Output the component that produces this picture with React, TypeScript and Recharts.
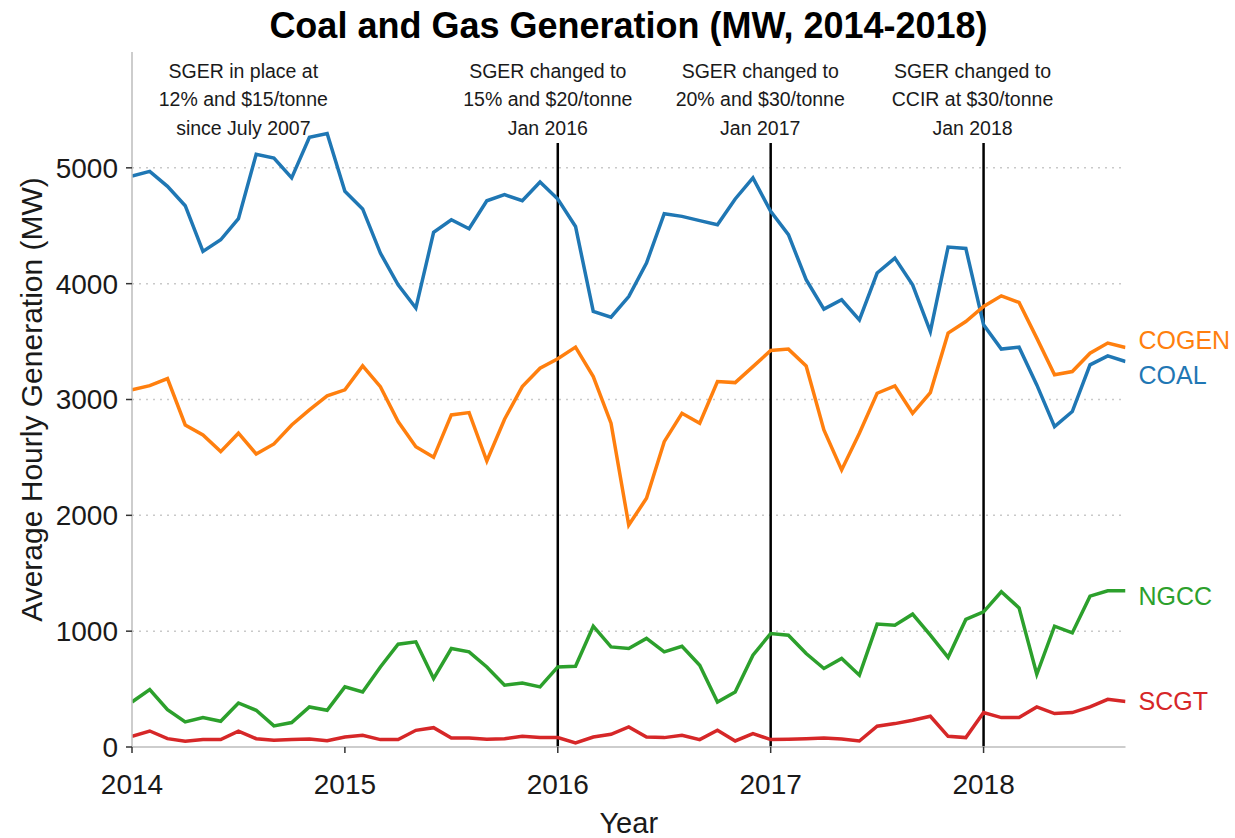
import React from "react";
import {
  LineChart,
  Line,
  XAxis,
  YAxis,
  CartesianGrid,
  ReferenceLine,
  ReferenceDot,
} from "recharts";

// monthly averages, Jan 2014 .. Sep 2018
const MONTHS = [
  "2014-01", "2014-02", "2014-03", "2014-04", "2014-05", "2014-06", "2014-07", "2014-08", "2014-09", "2014-10", "2014-11", "2014-12",
  "2015-01", "2015-02", "2015-03", "2015-04", "2015-05", "2015-06", "2015-07", "2015-08", "2015-09", "2015-10", "2015-11", "2015-12",
  "2016-01", "2016-02", "2016-03", "2016-04", "2016-05", "2016-06", "2016-07", "2016-08", "2016-09", "2016-10", "2016-11", "2016-12",
  "2017-01", "2017-02", "2017-03", "2017-04", "2017-05", "2017-06", "2017-07", "2017-08", "2017-09", "2017-10", "2017-11", "2017-12",
  "2018-01", "2018-02", "2018-03", "2018-04", "2018-05", "2018-06", "2018-07", "2018-08", "2018-09",
];

const COAL = [
  4930, 4970, 4840, 4673, 4278, 4379, 4561, 5117, 5085, 4913, 5264, 5296,
  4797, 4645, 4264, 3990, 3789, 4443, 4552, 4474, 4716, 4768, 4716, 4878,
  4730, 4494, 3760, 3711, 3889, 4178, 4604, 4581, 4544, 4509, 4731, 4913,
  4624, 4423, 4034, 3780, 3861, 3688, 4092, 4221, 3990, 3587, 4316, 4304,
  3645, 3435, 3452, 3126, 2766, 2896, 3299, 3377, 3328,
];

const COGEN = [
  3083, 3120, 3181, 2780, 2694, 2550, 2709, 2530, 2616, 2780, 2910, 3031,
  3083, 3290, 3111, 2809, 2593, 2501, 2867, 2887, 2469, 2830, 3111, 3270,
  3352, 3452, 3198, 2795, 1916, 2147, 2636, 2881, 2795, 3155, 3146, 3284,
  3423, 3435, 3290, 2737, 2392, 2709, 3054, 3118, 2881, 3060, 3573, 3673,
  3803, 3895, 3838, 3530, 3213, 3241, 3400, 3487, 3449,
];

const NGCC = [
  389, 496, 323, 216, 254, 222, 380, 317, 182, 211, 346, 317,
  519, 475, 691, 888, 908, 591, 850, 821, 691, 533, 553, 519,
  691, 697, 1043, 864, 850, 937, 821, 870, 706, 389, 475, 793,
  980, 965, 807, 678, 764, 620, 1061, 1052, 1147, 965, 773, 1101,
  1167, 1340, 1201, 628, 1043, 985, 1302, 1348, 1348,
];

const SCGT = [
  92, 138, 72, 49, 64, 64, 136, 72, 58, 64, 70, 55,
  86, 101, 64, 64, 144, 167, 78, 78, 67, 72, 92, 81,
  81, 35, 86, 110, 173, 86, 81, 101, 64, 144, 52, 116,
  64, 67, 72, 78, 70, 52, 179, 202, 231, 265, 92, 81,
  297, 254, 254, 346, 289, 297, 346, 412, 392,
];

const YEAR_TICKS = [2014, 2015, 2016, 2017, 2018];
const MW_TICKS = [0, 1000, 2000, 3000, 4000, 5000];
const GRID_LINES = [1000, 2000, 3000, 4000, 5000];
const POLICY_YEARS = [2016, 2017, 2018];

const NOTE_X = [2014.523, 2015.953, 2016.951, 2017.948];
const NOTE_TEXT = [
  ["SGER in place at", "12% and $15/tonne", "since July 2007"],
  ["SGER changed to", "15% and $20/tonne", "Jan 2016"],
  ["SGER changed to", "20% and $30/tonne", "Jan 2017"],
  ["SGER changed to", "CCIR at $30/tonne", "Jan 2018"],
];

const SERIES = [
  { key: "coal", name: "COAL", values: COAL, color: "#1f77b4", dy: 13 },
  { key: "cogen", name: "COGEN", values: COGEN, color: "#ff7f0e", dy: -7 },
  { key: "ngcc", name: "NGCC", values: NGCC, color: "#2ca02c", dy: 5 },
  { key: "scgt", name: "SCGT", values: SCGT, color: "#d62728", dy: -1 },
];

const toYear = (m: string) => {
  const [y, mo] = m.split("-").map(Number);
  return y + (mo - 1) / 12;
};

const data = MONTHS.map((m, i) => ({
  t: toYear(m),
  coal: COAL[i],
  cogen: COGEN[i],
  ngcc: NGCC[i],
  scgt: SCGT[i],
}));

const X_END = toYear(MONTHS[MONTHS.length - 1]);
const FONT = "'Liberation Sans', Arial, Helvetica, sans-serif";
const LINE_TOP = 5215;

function NoteLabel({ viewBox, lines }: any) {
  const cx = viewBox.x + (viewBox.width || 0) / 2;
  const top = viewBox.y;
  return (
    <text x={cx} y={top} textAnchor="middle" fontFamily={FONT} fontSize={19.5} fill="#1a1a1a">
      {lines.map((l: string, i: number) => (
        <tspan key={i} x={cx} y={top + 26 + i * 28.4}>
          {l}
        </tspan>
      ))}
    </text>
  );
}

function EndLabel({ viewBox, text, color, dy }: any) {
  return (
    <text
      x={viewBox.x + 13}
      y={viewBox.y + dy}
      dominantBaseline="central"
      fontFamily={FONT}
      fontSize={25}
      fill={color}
    >
      {text}
    </text>
  );
}

export default function App() {
  const last = data[data.length - 1];
  const width = 1235;
  const height = 838;

  return (
    <div style={{ position: "absolute", left: 0, top: 0, width, height, background: "#fff" }}>
      <svg width={width} height={60} style={{ position: "absolute", left: 0, top: 0 }}>
        <text x={628.5} y={38} textAnchor="middle" fontFamily={FONT} fontWeight="bold" fontSize={36} fill="#000">
          Coal and Gas Generation (MW, 2014-2018)
        </text>
      </svg>
      <LineChart
        width={width}
        height={height}
        data={data}
        margin={{ top: 52, right: 109.5, bottom: 0, left: 0 }}
      >
        <CartesianGrid
          vertical={false}
          horizontalValues={GRID_LINES}
          stroke="#c9c9c9"
          strokeDasharray="2 5"
          strokeWidth={1.5}
        />
        <XAxis
          dataKey="t"
          type="number"
          scale="linear"
          domain={[2014, X_END]}
          allowDataOverflow
          ticks={YEAR_TICKS}
          interval={0}
          height={91}
          tickSize={6}
          tickMargin={21}
          axisLine={{ stroke: "#bdbdbd", strokeWidth: 1.5 }}
          tickLine={{ stroke: "#333", strokeWidth: 1.5 }}
          tick={{ fill: "#1a1a1a", fontSize: 28, fontFamily: FONT }}
          label={(p: any) => (
            <text
              x={p.viewBox.x + p.viewBox.width / 2}
              y={833}
              textAnchor="middle"
              fontFamily={FONT}
              fontSize={29}
              fill="#1a1a1a"
            >
              Year
            </text>
          )}
        />
        <YAxis
          type="number"
          domain={[0, 6000]}
          allowDataOverflow
          ticks={MW_TICKS}
          width={132}
          tickSize={6}
          tickMargin={8}
          axisLine={{ stroke: "#bdbdbd", strokeWidth: 1.5 }}
          tickLine={{ stroke: "#333", strokeWidth: 1.5 }}
          tick={{ fill: "#1a1a1a", fontSize: 28, fontFamily: FONT }}
          label={(p: any) => {
            const cy = p.viewBox.y + p.viewBox.height / 2;
            return (
              <text
                x={31}
                y={cy}
                transform={`rotate(-90, 31, ${cy})`}
                textAnchor="middle"
                dominantBaseline="central"
                fontFamily={FONT}
                fontSize={30}
                fill="#1a1a1a"
              >
                Average Hourly Generation (MW)
              </text>
            );
          }}
        />
        {POLICY_YEARS.map((yr) => (
          <ReferenceLine
            key={yr}
            segment={[
              { x: yr, y: 0 },
              { x: yr, y: LINE_TOP },
            ]}
            stroke="#000"
            strokeWidth={2.5}
          />
        ))}
        {SERIES.map((s) => (
          <Line
            key={s.key}
            type="linear"
            dataKey={s.key}
            stroke={s.color}
            strokeWidth={3.5}
            dot={false}
            activeDot={false}
            isAnimationActive={false}
          />
        ))}
        {NOTE_X.map((x, i) => (
          <ReferenceDot
            key={"note" + i}
            x={x}
            y={6000}
            r={0}
            fill="none"
            stroke="none"
            label={(p: any) => <NoteLabel viewBox={p.viewBox} lines={NOTE_TEXT[i]} />}
          />
        ))}
        {SERIES.map((s) => (
          <ReferenceDot
            key={"end" + s.key}
            x={last.t}
            y={(last as any)[s.key]}
            r={0}
            fill="none"
            stroke="none"
            label={(p: any) => <EndLabel viewBox={p.viewBox} text={s.name} color={s.color} dy={s.dy} />}
          />
        ))}
      </LineChart>
    </div>
  );
}
